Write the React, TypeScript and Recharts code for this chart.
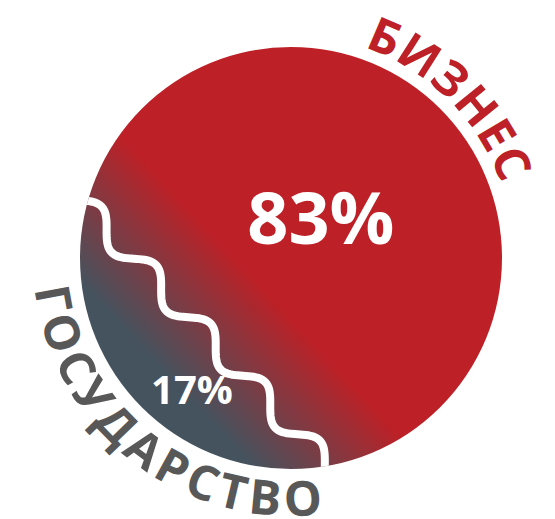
import { PieChart, Pie, Cell } from 'recharts'

const categories = ['БИЗНЕС', 'ГОСУДАРСТВО']
const shares = [83, 17]
const shareLabels = ['83%', '17%']

const data = categories.map((name, i) => ({ name, value: shares[i], pct: shareLabels[i] }))

const RED = '#bd2026'
const SLATE = '#45535e'
const TEXT_GREY = '#585858'
const FONT = '"Open Sans", "DejaVu Sans", sans-serif'

const W = 555
const H = 519
const CX = 291
const CY = 258
const R = 211

// put the middle of the small slice at the lower left
const SMALL_MID = 223
const total = shares.reduce((a, b) => a + b, 0)
const START = SMALL_MID + (360 * shares[1]) / total / 2 - 360

const WAVE_AMP = 12
const WAVE_LEN = 80
const WAVE_PHASE = Math.PI - (2 * Math.PI * 30) / WAVE_LEN

const D2R = Math.PI / 180
const unit = (deg: number) => ({ x: Math.cos(deg * D2R), y: -Math.sin(deg * D2R) })

// central angle (rad) of a circular segment holding fraction p of the disc
function chordAngle(p: number) {
  let lo = 0
  let hi = 2 * Math.PI
  for (let i = 0; i < 60; i++) {
    const m = (lo + hi) / 2
    if ((m - Math.sin(m)) / (2 * Math.PI) < p) lo = m
    else hi = m
  }
  return (lo + hi) / 2
}

const renderSlice = (props: any) => {
  const { cx, cy, outerRadius: r, startAngle, endAngle, index } = props
  const pct = props.payload?.pct ?? props.pct
  const p = Math.abs(endAngle - startAngle) / 360
  const mid = (startAngle + endAngle) / 2
  const th = chordAngle(p)
  const thDeg = th / D2R
  const u = unit(mid)
  const a = unit(mid - thDeg / 2)
  const b = unit(mid + thDeg / 2)
  const A = { x: cx + r * a.x, y: cy + r * a.y }
  const B = { x: cx + r * b.x, y: cy + r * b.y }
  const S = A.y < B.y ? A : B
  const E = A.y < B.y ? B : A
  const L = Math.hypot(E.x - S.x, E.y - S.y)
  const t = { x: (E.x - S.x) / L, y: (E.y - S.y) / L }
  const big = p >= 0.5
  const nBig = big ? u : { x: -u.x, y: -u.y }

  const wave = (s0: number, s1: number) => {
    const pts: { x: number; y: number }[] = []
    for (let s = s0; s <= s1; s += 2) {
      const off = WAVE_AMP * Math.sin((2 * Math.PI * s) / WAVE_LEN + WAVE_PHASE)
      pts.push({ x: S.x + t.x * s + nBig.x * off, y: S.y + t.y * s + nBig.y * off })
    }
    return pts
  }
  const toD = (pts: { x: number; y: number }[]) =>
    pts.map((q, i) => `${i ? 'L' : 'M'}${q.x.toFixed(2)},${q.y.toFixed(2)}`).join(' ')

  const reg = wave(-2.5 * r, L + 2.5 * r)
  const f = reg[reg.length - 1]
  const g = reg[0]
  reg.push({ x: f.x + u.x * 3 * r, y: f.y + u.y * 3 * r })
  reg.push({ x: g.x + u.x * 3 * r, y: g.y + u.y * 3 * r })
  const regionD = toD(reg) + ' Z'

  // chord position measured along the direction of the big slice
  const dBig = big ? r * Math.cos(th / 2) : -r * Math.cos(th / 2)
  const g1 = { x: cx + nBig.x * (dBig - 55), y: cy + nBig.y * (dBig - 55) }
  const g2 = { x: cx + nBig.x * (dBig + 75), y: cy + nBig.y * (dBig + 75) }

  // percentage label
  const fs = big ? 72 : 40
  const lp = unit(mid + 10)
  const lr = big ? 0.235 * r : 0.78 * r
  const lx = cx + lp.x * lr
  const ly = cy + lp.y * lr + 0.357 * fs

  // curved category name
  const ta = big ? mid + 2 : mid + 9.5
  const tr = big ? 223 : 258
  const p1 = unit(big ? ta + 90 : ta - 90)
  const p2 = unit(big ? ta - 90 : ta + 90)
  const arcD = `M${cx + tr * p1.x},${cy + tr * p1.y} A${tr},${tr} 0 0 ${big ? 1 : 0} ${cx + tr * p2.x},${cy + tr * p2.y}`

  return (
    <g key={`slice-${index}`}>
      <defs>
        <clipPath id={`disc-${index}`}>
          <circle cx={cx} cy={cy} r={r} />
        </clipPath>
        <linearGradient id={`grad-${index}`} gradientUnits="userSpaceOnUse" x1={g1.x} y1={g1.y} x2={g2.x} y2={g2.y}>
          <stop offset="0" stopColor={SLATE} />
          <stop offset="1" stopColor={RED} />
        </linearGradient>
        <path id={`arc-${index}`} d={arcD} />
      </defs>
      <path d={regionD} fill={`url(#grad-${index})`} clipPath={`url(#disc-${index})`} />
      {!big && (
        <path
          d={toD(wave(-10, L + 10))}
          fill="none"
          stroke="#fff"
          strokeWidth={8}
          strokeLinecap="round"
          clipPath={`url(#disc-${index})`}
        />
      )}
      <text x={lx} y={ly} textAnchor="middle" fill="#fff" fontFamily={FONT} fontWeight={700} fontSize={fs}>
        {pct}
      </text>
      <text
        fill={big ? RED : TEXT_GREY}
        fontFamily={FONT}
        fontWeight={700}
        fontSize={48}
        letterSpacing={big ? 1 : 5}
      >
        <textPath href={`#arc-${index}`} startOffset="50%" textAnchor="middle">
          {props.name}
        </textPath>
      </text>
    </g>
  )
}

export default function App() {
  return (
    <div style={{ position: 'absolute', left: 0, top: 0, width: W, height: H, background: '#fff' }}>
      <PieChart width={W} height={H} margin={{ top: 0, right: 0, bottom: 0, left: 0 }}>
        <Pie
          data={data}
          dataKey="value"
          nameKey="name"
          cx={CX}
          cy={CY}
          innerRadius={0}
          outerRadius={R}
          startAngle={START}
          endAngle={START + 360}
          stroke="none"
          label={renderSlice}
          labelLine={false}
          isAnimationActive={false}
        >
          {data.map((d) => (
            <Cell key={d.name} fill="none" />
          ))}
        </Pie>
      </PieChart>
    </div>
  )
}
